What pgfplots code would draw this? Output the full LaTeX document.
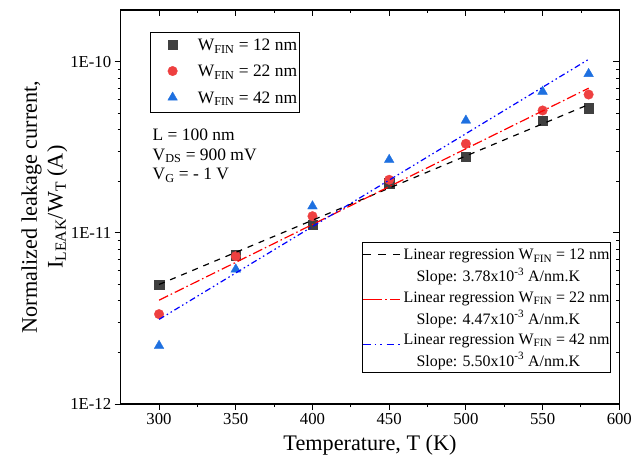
\documentclass[border=0pt]{standalone}
\usepackage{pgfplots}
\pgfplotsset{compat=1.18}
\usepackage{fontspec}
\setmainfont{Liberation Serif}
\definecolor{sqgray}{RGB}{64,64,64}
\definecolor{cred}{RGB}{238,64,64}
\definecolor{cblue}{RGB}{30,112,224}
\begin{document}
\begin{tikzpicture}
\begin{axis}[name=main,
  scale only axis, width=498.6bp, height=394bp,
  xmin=275, xmax=600, ymin=1e-12, ymax=2e-10, ymode=log,
  xtick={300,350,...,600}, minor x tick num=1,
  ytick={1e-12,1e-11,1e-10},
  minor ytick={2e-12,3e-12,4e-12,5e-12,6e-12,7e-12,8e-12,9e-12,2e-11,3e-11,4e-11,5e-11,6e-11,7e-11,8e-11,9e-11},
  major tick length=6bp, minor tick length=3bp,
  every tick/.style={black, line width=0.9bp},
  axis line style={black, line width=1.1bp},
  tick pos=left, tick align=outside,
  yticklabels={1E-12,1E-11,1E-10},
  ticklabel style={font=\fontsize{16.8}{20}\selectfont},
  /pgf/number format/assume math mode=true,
  /pgf/number format/1000 sep={},
  xlabel={Temperature, T (K)},
  ylabel={Normalized leakage current,\\I\textsubscript{LEAK}/W\textsubscript{T} (A)},
  label style={font=\fontsize{22.3}{26}\selectfont},
  ylabel style={align=center},
  ylabel shift=-4bp,
  xlabel shift=3bp,
  legend cell align=left,
  legend image code/.code={\path (0bp,1.2bp) (25bp,1.2bp); \draw[mark repeat=2,mark phase=2,#1] plot[only marks] coordinates {(0bp,1.2bp)(19.7bp,1.2bp)(25bp,1.2bp)};},
  legend style={at={(rel axis cs:0.0588,0.945)}, anchor=north west,
    inner xsep=2bp, inner ysep=6.7bp, row sep=12.4bp, column sep=19.5bp,
    font=\fontsize{17.5}{20}\selectfont,
    nodes={inner sep=0pt, text height=11.6bp, text depth=2.4bp},
    draw=black, line width=0.9bp},
]
\addplot[only marks, mark=square*, mark size=4.6bp, mark options={draw=sqgray, fill=sqgray, line width=0.3bp}]
  coordinates {(300,4.99e-12)(350,7.4e-12)(400,1.117e-11)(450,1.95e-11)(500,2.77e-11)(550,4.53e-11)(580,5.34e-11)};
\addlegendentry{W\textsubscript{FIN} = 12 nm}
\addplot[only marks, mark=*, mark size=4.8bp, mark options={draw=cred, fill=cred, line width=0.3bp}]
  coordinates {(300,3.35e-12)(350,7.3e-12)(400,1.25e-11)(450,2.04e-11)(500,3.31e-11)(550,5.18e-11)(580,6.42e-11)};
\addlegendentry{W\textsubscript{FIN} = 22 nm}
\addplot[only marks, mark=triangle*, mark size=5.6bp, mark options={draw=cblue, fill=cblue, line width=0.3bp}]
  coordinates {(300,2.19e-12)(350,6.12e-12)(400,1.43e-11)(450,2.67e-11)(500,4.53e-11)(550,6.68e-11)(580,8.48e-11)};
\addlegendentry{W\textsubscript{FIN} = 42 nm}
\node[anchor=north west, align=left, inner sep=0pt, font=\fontsize{17.5}{19.5}\selectfont]
  at (rel axis cs:0.0638,0.6985) {L = 100 nm\\V\textsubscript{DS} = 900 mV\\V\textsubscript{G} = - 1 V};
\end{axis}
\begin{axis}[name=ax2, at={(main.south west)}, anchor=south west,
  scale only axis, width=498.6bp, height=394bp,
  xmin=275, xmax=600, ymin=1e-12, ymax=2e-10, ymode=log,
  xtick={300,350,...,600}, minor x tick num=1,
  ytick={1e-12,1e-11,1e-10},
  minor ytick={2e-12,3e-12,4e-12,5e-12,6e-12,7e-12,8e-12,9e-12,2e-11,3e-11,4e-11,5e-11,6e-11,7e-11,8e-11,9e-11},
  major tick length=6bp, minor tick length=3bp,
  every tick/.style={black, line width=0.9bp},
  axis line style={black, line width=1.1bp},
  tick pos=right, tick align=inside,
  xticklabels={}, yticklabels={},
  legend cell align=left,
  legend style={at={(rel axis cs:0.4836,0.4104)}, anchor=north west,
    inner xsep=1.3bp, inner ysep=5.2bp, row sep=6.6bp, column sep=40bp,
    font=\fontsize{16}{19}\selectfont,
    nodes={inner sep=0pt},
    draw=black, fill=white, line width=0.9bp},
]
\addplot[black, line width=1.2bp, dash pattern=on 6bp off 6bp, forget plot]
  coordinates {(300,4.99e-12)(580,5.61e-11)};
\addplot[red, line width=1.2bp, dash pattern=on 10bp off 3bp on 1.5bp off 3bp, forget plot]
  coordinates {(300,4.04e-12)(580,6.99e-11)};
\addplot[blue, line width=1.2bp, dash pattern=on 6bp off 3bp on 1.5bp off 3bp on 1.5bp off 3bp, forget plot]
  coordinates {(300,3.12e-12)(580,1.03e-10)};
\addlegendimage{empty legend}
\addlegendentry{\raisebox{0pt}[12bp][4bp]{Linear regression W\textsubscript{FIN} = 12 nm}}
\addlegendimage{empty legend}
\addlegendentry{\raisebox{0pt}[13.9bp][2.1bp]{\hspace{13bp}Slope: 3.78x10\textsuperscript{-3} A/nm.K}}
\addlegendimage{empty legend}
\addlegendentry{\raisebox{0pt}[12bp][4bp]{Linear regression W\textsubscript{FIN} = 22 nm}}
\addlegendimage{empty legend}
\addlegendentry{\raisebox{0pt}[13.9bp][2.1bp]{\hspace{13bp}Slope: 4.47x10\textsuperscript{-3} A/nm.K}}
\addlegendimage{empty legend}
\addlegendentry{\raisebox{0pt}[12bp][4bp]{Linear regression W\textsubscript{FIN} = 42 nm}}
\addlegendimage{empty legend}
\addlegendentry{\raisebox{0pt}[13.9bp][2.1bp]{\hspace{13bp}Slope: 5.50x10\textsuperscript{-3} A/nm.K}}
\end{axis}
% legend line samples for the regression legend
\draw[draw=black, line width=1.2bp, dash pattern=on 7.5bp off 7.5bp]
  ([shift={(242.3bp,149.5bp)}]ax2.south west) -- ([shift={(279.3bp,149.5bp)}]ax2.south west);
\draw[draw=red, line width=1.2bp, dash pattern=on 18.5bp off 3.5bp on 1.5bp off 3.5bp]
  ([shift={(242.3bp,104.3bp)}]ax2.south west) -- ([shift={(279.3bp,104.3bp)}]ax2.south west);
\draw[draw=blue, line width=1.2bp, dash pattern=on 7.5bp off 4bp on 1.5bp off 4bp on 1.5bp off 5bp]
  ([shift={(242.3bp,59.8bp)}]ax2.south west) -- ([shift={(279.3bp,59.8bp)}]ax2.south west);
\pgfresetboundingbox
\path[use as bounding box] ([shift={(-120.7bp,-66bp)}]main.south west) rectangle ([shift={(511.3bp,404bp)}]main.south west);
\end{tikzpicture}
\end{document}
